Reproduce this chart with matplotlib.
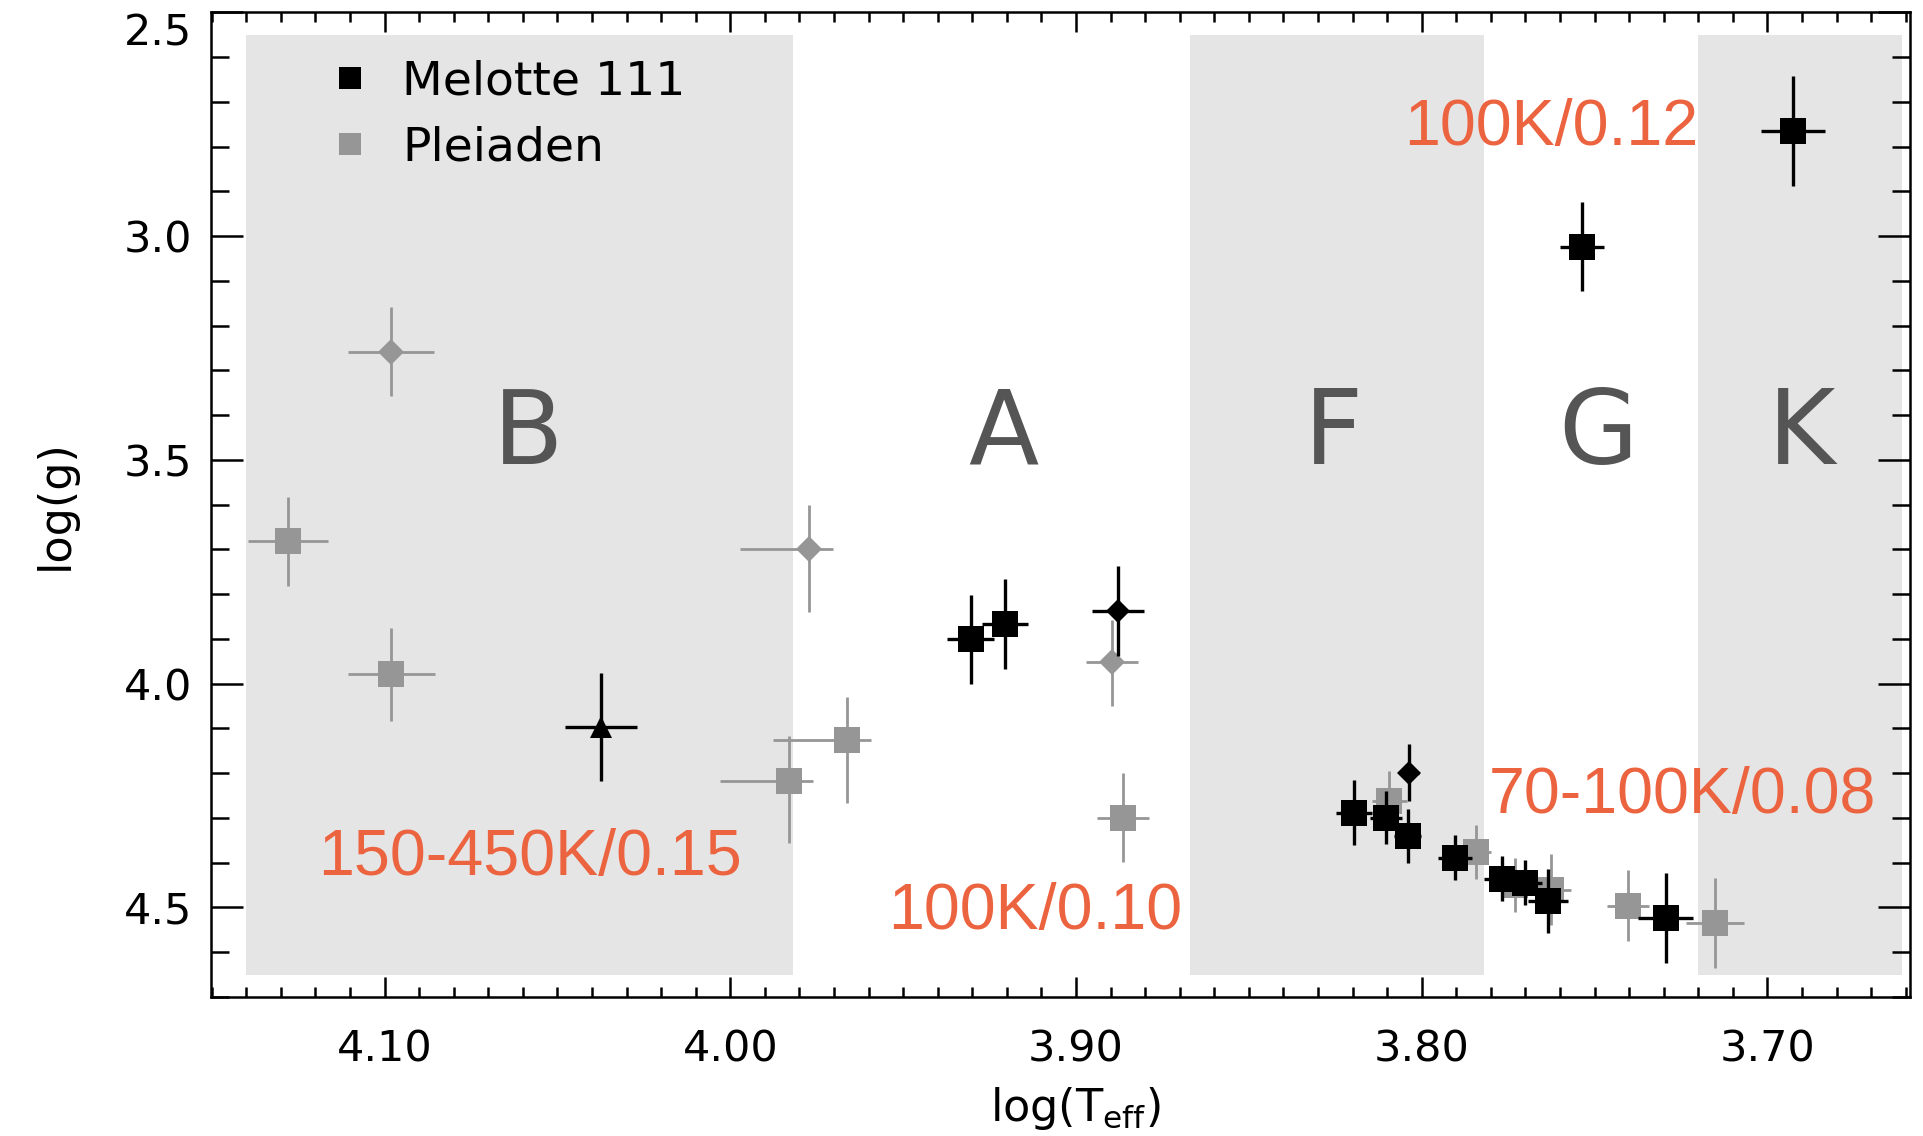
import matplotlib
matplotlib.use('Agg')
import matplotlib.pyplot as plt
from matplotlib.ticker import MultipleLocator, FixedLocator, FormatStrFormatter
from matplotlib.lines import Line2D

# ---------------- data ----------------
# Melotte 111 (black) - squares
mel_sq_teff = [3.9305, 3.9206, 3.8196, 3.8104, 3.8041, 3.7904, 3.7769, 3.7702, 3.7636, 3.7294, 3.7536, 3.6927]
mel_sq_logg = [3.901, 3.867, 4.288, 4.299, 4.340, 4.389, 4.436, 4.445, 4.485, 4.524, 3.023, 2.764]
mel_sq_teff_err = [0.0067, 0.0067, 0.0053, 0.0046, 0.0040, 0.005, 0.005, 0.005, 0.0058, 0.008, 0.0063, 0.0092]
mel_sq_logg_err = [0.10, 0.10, 0.072, 0.06, 0.06, 0.05, 0.05, 0.05, 0.072, 0.10, 0.10, 0.123]
# Melotte 111 - diamonds
mel_di_teff = [3.8878, 3.8037]
mel_di_logg = [3.837, 4.199]
mel_di_teff_err = [0.0075, 0.003]
mel_di_logg_err = [0.10, 0.064]
# Melotte 111 - triangle
mel_tr_teff = [4.0374]
mel_tr_logg = [4.097]
mel_tr_teff_err = [0.0105]
mel_tr_logg_err = [0.12]

# Pleiaden (grey) - squares (asymmetric errors: lo = smaller value, hi = larger value)
pl_sq_teff = [4.128, 4.098, 3.983, 3.9663, 3.8863, 3.8094, 3.7844, 3.7731, 3.7627, 3.7403, 3.7152]
pl_sq_logg = [3.682, 3.979, 4.217, 4.126, 4.299, 4.261, 4.376, 4.450, 4.460, 4.496, 4.535]
pl_sq_teff_err_lo = [0.0116, 0.0125, 0.007, 0.007, 0.0075, 0.005, 0.0045, 0.005, 0.006, 0.006, 0.0085]
pl_sq_teff_err_hi = [0.0116, 0.0125, 0.020, 0.0212, 0.0075, 0.005, 0.0045, 0.005, 0.006, 0.006, 0.0085]
pl_sq_logg_err_lo = [0.10, 0.104, 0.10, 0.097, 0.10, 0.065, 0.06, 0.06, 0.08, 0.08, 0.10]
pl_sq_logg_err_hi = [0.10, 0.104, 0.14, 0.141, 0.10, 0.065, 0.06, 0.06, 0.08, 0.08, 0.10]
# Pleiaden - diamonds
pl_di_teff = [4.0982, 3.9773, 3.8895]
pl_di_logg = [3.258, 3.698, 3.951]
pl_di_teff_err_lo = [0.0125, 0.007, 0.0075]
pl_di_teff_err_hi = [0.0125, 0.020, 0.0075]
pl_di_logg_err_lo = [0.10, 0.098, 0.093]
pl_di_logg_err_hi = [0.10, 0.142, 0.098]

# spectral classes
class_names = ['B', 'A', 'F', 'G', 'K']
class_x = [4.0586, 3.921, 3.8255, 3.749, 3.690]
shade_left = [4.140, 3.867, 3.720]
shade_right = [3.982, 3.782, 3.661]
shade_top, shade_bottom = 2.55, 4.65

# annotations
ann_text = ['100K/0.12', '150-450K/0.15', '100K/0.10', '70-100K/0.08']
ann_x = [3.7625, 4.0578, 3.9118, 3.7247]
ann_y = [2.796, 4.428, 4.548, 4.2895]

x_ticks = [4.10, 4.00, 3.90, 3.80, 3.70]
y_ticks = [2.5, 3.0, 3.5, 4.0, 4.5]

# ---------------- figure ----------------
GREY = '#969696'
BAND = '#e5e5e5'
ORANGE = '#ec6340'
LETTER = '#555555'

fig = plt.figure(figsize=(19.23, 11.36), dpi=100)
ax = fig.add_axes([0.1099, 0.1224, 0.8833, 0.8666])
ax.set_xlim(4.1501, 3.6588)
ax.set_ylim(4.70, 2.5)

for l, r in zip(shade_left, shade_right):
    ax.fill_betweenx([shade_top, shade_bottom], l, r, color=BAND, lw=0, zorder=0)

for name, x in zip(class_names, class_x):
    ax.text(x, 3.508, name, ha='center', va='baseline', fontsize=74,
            color=LETTER, family='DejaVu Sans', fontweight='medium', zorder=1)

# grey (Pleiaden)
ax.errorbar(pl_sq_teff, pl_sq_logg,
            xerr=[pl_sq_teff_err_lo, pl_sq_teff_err_hi],
            yerr=[pl_sq_logg_err_lo, pl_sq_logg_err_hi],
            fmt='s', color=GREY, ms=18.5, mew=0, elinewidth=2.0, capsize=0, zorder=3)
ax.errorbar(pl_di_teff, pl_di_logg,
            xerr=[pl_di_teff_err_lo, pl_di_teff_err_hi],
            yerr=[pl_di_logg_err_lo, pl_di_logg_err_hi],
            fmt='D', color=GREY, ms=13, mew=0, elinewidth=2.0, capsize=0, zorder=3)

# black (Melotte 111)
ax.errorbar(mel_sq_teff, mel_sq_logg, xerr=mel_sq_teff_err, yerr=mel_sq_logg_err,
            fmt='s', color='black', ms=18.5, mew=0, elinewidth=2.4, capsize=0, zorder=4)
ax.errorbar(mel_di_teff, mel_di_logg, xerr=mel_di_teff_err, yerr=mel_di_logg_err,
            fmt='D', color='black', ms=12, mew=0, elinewidth=2.4, capsize=0, zorder=4)
ax.errorbar(mel_tr_teff, mel_tr_logg, xerr=mel_tr_teff_err, yerr=mel_tr_logg_err,
            fmt='^', color='black', ms=16, mew=0, elinewidth=2.4, capsize=0, zorder=4)

for t, x, y in zip(ann_text, ann_x, ann_y):
    ax.text(x, y, t, ha='center', va='baseline', fontsize=46.5, color=ORANGE,
            family='Liberation Sans', zorder=6)

# legend
handles = [Line2D([], [], marker='s', color='black', linestyle='none', ms=16, mew=0),
           Line2D([], [], marker='s', color=GREY, linestyle='none', ms=16, mew=0)]
ax.legend(handles, ['Melotte 111', 'Pleiaden'], loc='upper left',
          bbox_to_anchor=(0.068, 0.952), frameon=False, fontsize=34,
          handlelength=1.0, handletextpad=0.6, labelspacing=0.45,
          borderpad=0, borderaxespad=0)

# axes styling
for s in ax.spines.values():
    s.set_linewidth(1.8)
ax.xaxis.set_major_locator(FixedLocator(x_ticks))
ax.xaxis.set_minor_locator(MultipleLocator(0.01))
ax.xaxis.set_major_formatter(FormatStrFormatter('%.2f'))
ax.yaxis.set_major_locator(FixedLocator(y_ticks))
ax.yaxis.set_minor_locator(MultipleLocator(0.1))
ax.yaxis.set_major_formatter(FormatStrFormatter('%.1f'))
ax.tick_params(which='both', direction='in', top=True, right=True, width=1.8,
               labelsize=31, colors='black')
ax.tick_params(axis='x', which='major', length=14.4, pad=23)
ax.tick_params(axis='x', which='minor', length=7.2)
ax.tick_params(axis='y', which='major', length=23, pad=14)
ax.tick_params(axis='y', which='minor', length=13)
ax.yaxis.get_major_ticks()[0].label1.set_verticalalignment('top')

ax.set_xlabel(r'log(T$_{\rm eff}$)', fontsize=32)
ax.xaxis.set_label_coords(0.5085, -0.0894)
ax.xaxis.label.set_verticalalignment('top')
ax.set_ylabel('log(g)', fontsize=32)
ax.yaxis.set_label_coords(-0.079, 0.5)

fig.savefig('out.png', dpi=100)
